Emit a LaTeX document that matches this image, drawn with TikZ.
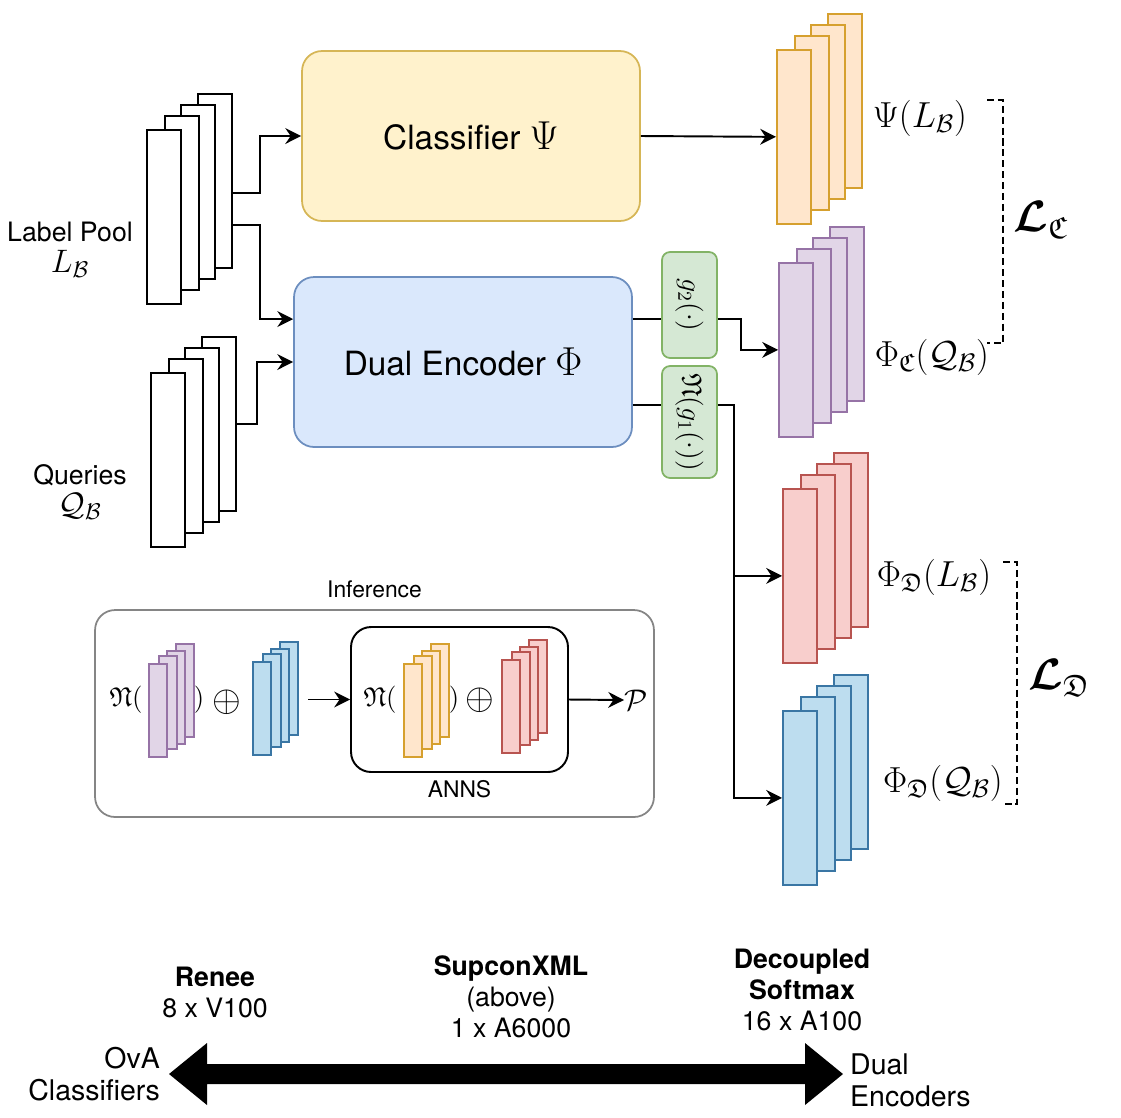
\documentclass[tikz,border=0pt]{standalone}
\usepackage{fix-cm}
\usepackage{amsmath,amssymb}
\usepackage[no-math]{fontspec}
\setmainfont{TeX Gyre Heros}
\usetikzlibrary{arrows.meta}
\usetikzlibrary{calc}

\definecolor{clsfill}{HTML}{FFF2CC}
\definecolor{clsdraw}{HTML}{D6B656}
\definecolor{encfill}{HTML}{DAE8FC}
\definecolor{encdraw}{HTML}{6C8EBF}
\definecolor{gfill}{HTML}{D5E8D4}
\definecolor{gdraw}{HTML}{82B366}
\definecolor{orfill}{HTML}{FFE6CC}
\definecolor{ordraw}{HTML}{D6A02E}
\definecolor{pufill}{HTML}{E1D5E7}
\definecolor{pudraw}{HTML}{9673A6}
\definecolor{rdfill}{HTML}{F8CECC}
\definecolor{rddraw}{HTML}{B85450}
\definecolor{blfill}{HTML}{BDDDEF}
\definecolor{bldraw}{HTML}{3A76A4}
\definecolor{infdraw}{HTML}{858585}

\begin{document}
\begin{tikzpicture}[x=0.02cm,y=-0.02cm,
  blk/.style={draw=black,fill=white,line width=1.2pt},
  orl/.style={draw=ordraw,fill=orfill,line width=1pt},
  pul/.style={draw=pudraw,fill=pufill,line width=1pt},
  rdl/.style={draw=rddraw,fill=rdfill,line width=1pt},
  bll/.style={draw=bldraw,fill=blfill,line width=1pt},
  module/.style={rounded corners=0.4cm,line width=1pt,minimum width=6.76cm,minimum height=3.4cm,font=\fontsize{19}{23}\selectfont},
  gbox/.style={draw=gdraw,fill=gfill,rounded corners=0.16cm,line width=1pt,minimum width=1.1cm},
  arr/.style={line width=1.1pt,-{Stealth[length=9pt,width=9pt,inset=3pt]}},
  brk/.style={line width=0.7pt,dash pattern=on 4pt off 2.2pt},
  txt/.style={font=\fontsize{15.2}{17.6}\selectfont},
  sidetxt/.style={font=\fontsize{16.2}{18.2}\selectfont},
  smalltxt/.style={font=\fontsize{13}{15.6}\selectfont},
  mlab/.style={font=\fontsize{20.6}{24}\selectfont},
  imath/.style={font=\fontsize{15.5}{18}\selectfont,inner sep=0pt}]

\useasboundingbox (0,0) rectangle (1121,1117);

\node[module,fill=clsfill,draw=clsdraw] (cls) at (471,136) {Classifier {\fontsize{23}{23}\selectfont$\Psi$}};
\node[module,fill=encfill,draw=encdraw] (enc) at (463,362) {Dual Encoder {\fontsize{23}{23}\selectfont$\Phi$}};
\node[gbox,minimum height=2.12cm,label={[rotate=-90,font=\fontsize{16}{18}\selectfont]center:$g_2(\cdot)$}] (g2) at (689.5,305) {};
\node[gbox,minimum height=2.24cm,label={[rotate=-90,font=\fontsize{16}{18}\selectfont]center:$\mathfrak{N}(g_1(\cdot))$}] (g1) at (689.5,422) {};

\node[draw=infdraw,line width=1pt,rounded corners=0.4cm,minimum width=11.18cm,minimum height=4.14cm,label={[smalltxt,label distance=3pt]above:Inference}] (inf) at (374.5,713.5) {};
\node[draw,line width=1.1pt,rounded corners=0.4cm,minimum width=4.34cm,minimum height=2.9cm,label={[smalltxt,label distance=1pt]below:ANNS}] (anns) at (459.5,699.5) {};

\foreach \s/\x/\y/\c in {lab/146/129/blk,qry/150/372/blk,psi/776/49/orl,phc/778/262/pul,phl/782/488/rdl,phq/782/710/bll}
  \foreach \i/\dx/\dy in {4/51/36,3/34/25,2/18/14,1/0/0}
    \node[\c,minimum width=0.68cm,minimum height=3.48cm,anchor=north west] (\s\i) at (\x+\dx,\y-\dy) {};
\foreach \s/\x/\y/\c in {ipu/148/663/pul,ibl/252/661/bll,ior/403/663/orl,ird/501/659/rdl}
  \foreach \i/\dx/\dy in {4/27/20,3/18/13,2/10/8,1/0/0}
    \node[\c,minimum width=0.36cm,minimum height=1.86cm,anchor=north west] (\s\i) at (\x+\dx,\y-\dy) {};

\node[txt,align=center] (tlab) at (70,250) {Label Pool\\{\fontsize{18.5}{20}\selectfont$L_{\mathcal{B}}$}};
\node[txt,align=center] (tqry) at (80,492) {Queries\\{\fontsize{18.5}{20}\selectfont$\mathcal{Q}_{\mathcal{B}}$}};

\draw[arr] ($(lab4.north east)!.57!(lab4.south east)$) -- ++(27,0) |- (cls.west);
\draw[arr] ($(lab4.north east)!.75!(lab4.south east)$) -- ++(27,0) |- ($(enc.north west)!.25!(enc.south west)$);
\draw[arr] (qry4.east) -- ++(20,0) |- (enc.west);
\draw[arr] (cls.east) -- (psi1.west);

\coordinate (e1) at ($(enc.north east)!.25!(enc.south east)$);
\coordinate (e2) at ($(enc.north east)!.75!(enc.south east)$);
\draw[line width=1.1pt] (e1) -- (e1 -| g2.west);
\draw[line width=1.1pt] (e2) -- (e2 -| g1.west);
\draw[arr] (e1 -| g2.east) -- ++(23,0) |- (phc1.west);
\draw[arr] (e2 -| g1.east) -- ++(16,0) |- (phq1.west);
\draw[arr] (e2 -| g1.east) ++(16,0) |- (phl1.west);

\node[mlab] (tpsi) at (920,118) {$\Psi(L_{\mathcal{B}})$};
\node[mlab] (tphc) at (932,357) {$\Phi_{\mathfrak{C}}(\mathcal{Q}_{\mathcal{B}})$};
\node[mlab] (tphl) at (934,577) {$\Phi_{\mathfrak{D}}(L_{\mathcal{B}})$};
\node[mlab] (tphq) at (943,783) {$\Phi_{\mathfrak{D}}(\mathcal{Q}_{\mathcal{B}})$};
\node[font=\fontsize{25}{30}\selectfont] (lc) at (1041,220) {$\boldsymbol{\mathcal{L}}_{\mathfrak{C}}$};
\node[font=\fontsize{25}{30}\selectfont] (ld) at (1059,678) {$\boldsymbol{\mathcal{L}}_{\mathfrak{D}}$};
\coordinate (lct) at (987,100);
\coordinate (lcb) at (987,343);
\coordinate (ldt) at (1003,562);
\coordinate (ldb) at (1003,804);
\draw[brk] (lct) -- ++(16,0) |- (lcb);
\draw[brk] (ldt) -- ++(14,0) |- (ldb);

\node[imath] (n1) at (126,700) {$\mathfrak{N}($};
\node[imath] (c1) at (199,700) {$)$};
\node[imath,font=\fontsize{21}{24}\selectfont] (o1) at (227,702) {$\oplus$};
\node[imath] (n2) at (380,700) {$\mathfrak{N}($};
\node[imath] (c2) at (454,700) {$)$};
\node[imath,font=\fontsize{21}{24}\selectfont] (o2) at (480,700) {$\oplus$};
\node[imath,font=\fontsize{17}{20}\selectfont] (prd) at (636,700) {$\mathcal{P}$};
\coordinate (ia) at (308,699.5);
\draw[arr] (ia) -- (anns.west);
\draw[arr] (anns.east) -- (prd.west);

\fill (169,1074) -- (207,1043) -- (207,1064) -- (805,1064) -- (805,1043) -- (843,1074)
  -- (805,1105) -- (805,1084) -- (207,1084) -- (207,1105) -- cycle;
\node[txt,align=center] (ren) at (215,992) {\textbf{Renee}\\8 x V100};
\node[txt,align=center] (sup) at (511,997) {\textbf{SupconXML}\\(above)\\1 x A6000};
\node[txt,align=center] (dec) at (802,990) {\textbf{Decoupled}\\\textbf{Softmax}\\16 x A100};
\node[sidetxt,align=right,anchor=east] (ova) at (166,1074) {OvA\\Classifiers};
\node[sidetxt,align=left,anchor=west] (due) at (844,1080) {Dual\\Encoders};

\end{tikzpicture}
\end{document}
